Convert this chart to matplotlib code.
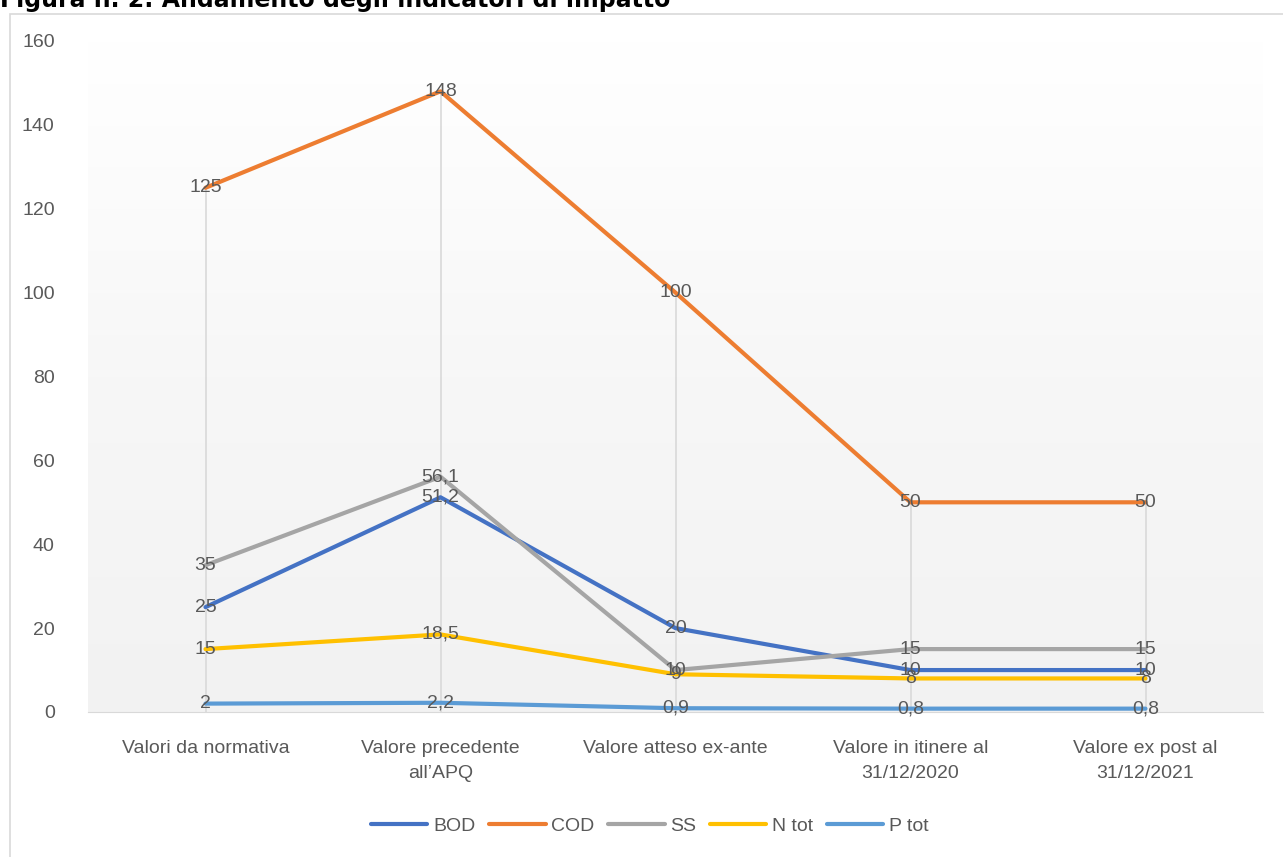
import numpy as np
import matplotlib.pyplot as plt
from matplotlib.patches import Rectangle
from matplotlib.colors import LinearSegmentedColormap

plt.rcParams["font.family"] = ["Liberation Sans Narrow", "Liberation Sans", "DejaVu Sans"]

categories = [
    "Valori da normativa",
    "Valore precedente\nall\u2019APQ",
    "Valore atteso ex-ante",
    "Valore in itinere al\n31/12/2020",
    "Valore ex post al\n31/12/2021",
]
series_names = ["BOD", "COD", "SS", "N tot", "P tot"]
bod = [25, 51.2, 20, 10, 10]
cod = [125, 148, 100, 50, 50]
ss = [35, 56.1, 10, 15, 15]
ntot = [15, 18.5, 9, 8, 8]
ptot = [2, 2.2, 0.9, 0.8, 0.8]
colors = ["#4472C4", "#ED7D31", "#A5A5A5", "#FFC000", "#5B9BD5"]

W, H = 1283, 857
fig = plt.figure(figsize=(W / 100, H / 100), dpi=100)
ax = fig.add_axes([88 / W, 1 - 712 / H, (1263 - 88) / W, (712 - 41) / H])

# chart border
fig.add_artist(Rectangle((10 / W, -0.1), 1.2, 1 - 14 / H + 0.1, transform=fig.transFigure,
                         fill=False, ec="#d9d9d9", lw=1.2))

# title (cropped at top)
fig.text(0.0, 1 - 7 / H, "Figura n. 2: Andamento degli indicatori di impatto",
         fontsize=17, fontweight="bold", family="DejaVu Sans", va="baseline", ha="left")

x = np.arange(len(categories))
ax.set_xlim(-0.5, len(categories) - 0.5)
ax.set_ylim(0, 160)

# gradient background (white at top -> light gray at bottom)
cm = LinearSegmentedColormap.from_list("bg", ["#f2f2f2", "#f7f7f7", "#ffffff"])
ax.imshow(np.linspace(0, 1, 256).reshape(-1, 1), aspect="auto", cmap=cm,
          extent=[-0.5, len(categories) - 0.5, 0, 160], origin="lower", zorder=0)

all_series = [bod, cod, ss, ntot, ptot]
tops = np.max(np.array(all_series), axis=0)
ax.vlines(x, 0, tops, color="#d9d9d9", lw=1.2, zorder=1)

for name, vals, c in zip(series_names, all_series, colors):
    ax.plot(x, vals, color=c, lw=3.0, label=name, zorder=3, solid_capstyle="round")
    for xi, v in zip(x, vals):
        lab = f"{v:g}".replace(".", ",")
        ax.text(xi, v, lab, ha="center", va="center", fontsize=14, color="#595959", zorder=4)

ax.set_xticks(x)
ax.set_xticklabels(categories, fontsize=14, color="#595959", linespacing=1.6)
ax.set_yticks(np.arange(0, 161, 20))
ax.tick_params(axis="y", length=0, pad=24, labelsize=14, labelcolor="#595959")
ax.tick_params(axis="x", length=0, pad=20)
for s in ["top", "right", "left"]:
    ax.spines[s].set_visible(False)
ax.spines["bottom"].set_color("#d9d9d9")
ax.spines["bottom"].set_zorder(2)

leg = fig.legend(loc="center", bbox_to_anchor=(650 / W, 1 - 826 / H), ncol=5, frameon=False,
                 fontsize=14, handlelength=2.9, columnspacing=0.7, handletextpad=0.3)
for t in leg.get_texts():
    t.set_color("#595959")

fig.savefig("out.png", dpi=100)
